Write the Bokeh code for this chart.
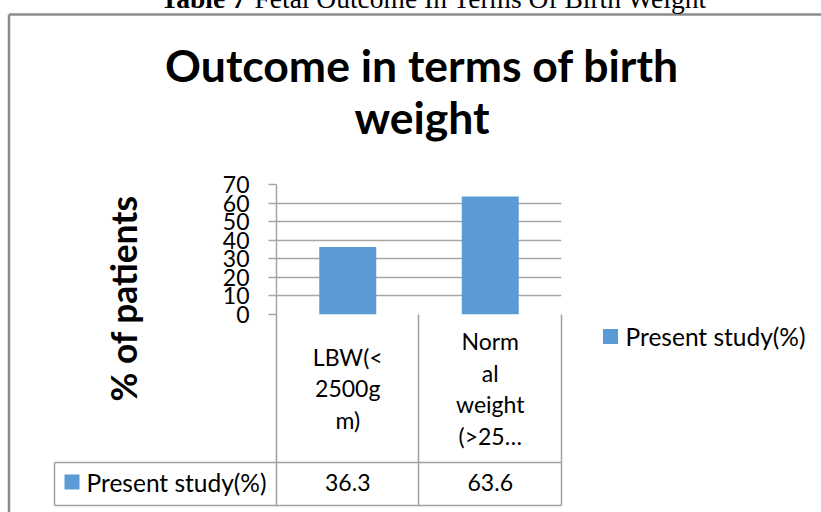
import math
from bokeh.plotting import figure
from bokeh.models import Range1d, FactorRange, FixedTicker, ColumnDataSource
from bokeh.embed import file_html
from bokeh.resources import INLINE
from bokeh.core.properties import value

# ---------------- data ----------------
categories = ["LBW(<2500gm)", "Normal weight (>2500gm)"]
category_lines = ["LBW(<\n2500g\nm)", "Norm\nal\nweight\n(>25\u2026"]
series_name = "Present study(%)"
values = [36.3, 63.6]
value_labels = ["36.3", "63.6"]
y_ticks = [0, 10, 20, 30, 40, 50, 60, 70]
title_lines = ["Outcome in terms of birth", "weight"]
y_title = "% of patients"
caption_bold = "Table 7"
caption_rest = "Fetal Outcome In Terms Of Birth Weight"

# ---------------- style ----------------
BAR = "#5B9BD5"
GRID = "#a6a6a6"
LINE = "#a0a0a0"
FRAME_BORDER = "#8c8c8c"
FONT = "Lato"
TXT = "23px"
LEG_TXT = "24.5px"

W, H = 821, 512
FL, FR, FT, FB = 276, 561, 184, 314      # plot area in page pixels
p = figure(width=W, height=H,
           x_range=FactorRange(*categories), y_range=Range1d(0, 70),
           output_backend="svg", toolbar_location=None,
           min_border_left=FL, min_border_right=W - FR,
           min_border_top=FT, min_border_bottom=H - FB)
p.outline_line_color = None
p.background_fill_color = "white"
p.border_fill_color = "white"

# page-pixel helpers for the decorations outside the plot area
p.extra_y_ranges = {"px": Range1d(FB, FT)}
CAT_W = (FR - FL) / len(categories)
def sx(px):
    """page x pixel -> synthetic categorical coordinate"""
    return (px - FL) / CAT_W

# bars
bars = p.vbar(x=categories, top=values, width=0.4, fill_color=BAR, line_color=None)

# axes / grid
p.xaxis.visible = False
p.xgrid.visible = False
p.ygrid.ticker = FixedTicker(ticks=y_ticks)
p.ygrid.grid_line_color = GRID
p.ygrid.grid_line_width = 1.5
yax = p.yaxis[0]
yax.ticker = FixedTicker(ticks=y_ticks)
yax.minor_tick_line_color = None
yax.major_tick_in = 0
yax.major_tick_out = 8
yax.major_tick_line_color = GRID
yax.major_tick_line_width = 1.5
yax.axis_line_color = GRID
yax.axis_line_width = 1.5
yax.major_label_standoff = 19
yax.major_label_text_font = FONT
yax.major_label_text_font_size = TXT
yax.major_label_text_color = "black"

# chart border (Excel chart area frame)
p.segment(x0=[sx(8.5), sx(8.5)], y0=[14, 14], x1=[sx(830), sx(8.5)], y1=[14, 530],
          y_range_name="px", level="overlay",
          line_color=FRAME_BORDER, line_width=2.5)

# data table lines
tx0, tx1, tx2, txl = FL, 418, FR, 54
ty0, ty1, ty2 = FB, 462, 505
p.segment(x0=[sx(v) for v in (tx0, tx1, tx2, txl, txl, txl)],
          y0=[ty0, ty0, ty0, ty1, ty1, ty2],
          x1=[sx(v) for v in (tx0, tx1, tx2, txl, tx2, tx2)],
          y1=[ty2, ty2, ty2, ty2, ty1, ty2],
          y_range_name="px", level="overlay",
          line_color=LINE, line_width=1.5)

def txt(x, y, text, size=TXT, align="left", bold=False,
        font=FONT, angle=0.0, line_height=1.2):
    src = ColumnDataSource(dict(x=x, y=y, text=text))
    p.text(x="x", y="y", text="text", source=src, y_range_name="px", level="overlay",
           text_align=align, text_baseline="middle", text_font=value(font),
           text_font_size=size, text_font_style="bold" if bold else "normal",
           text_line_height=line_height, angle=angle, text_color="black")

# category labels (table header cells)
txt(categories, [388, 388], category_lines, align="center", line_height=1.14)

# values row
txt(categories, [482, 482], value_labels, align="center")

# legend keys (data-table row key and the legend at right): 15px squares
key_x = [71.5, 610]
key_y = [481.5, 336]
p.segment(x0=[sx(v - 7.5) for v in key_x], x1=[sx(v + 7.5) for v in key_x],
          y0=key_y, y1=key_y, y_range_name="px", level="overlay",
          line_color=BAR, line_width=15, line_cap="butt")
txt([sx(86), sx(625)], [482, 336], [series_name, series_name], size=LEG_TXT)

# chart title
txt([sx(421.5), sx(421.5)], [63.5, 116], title_lines, size="44.5px", align="center",
    bold=True)
# y axis title
txt([sx(123)], [298], [y_title], size="35.3px", align="center", bold=True,
    angle=math.pi / 2)

# caption above the chart (cut off at the top, as in the source image)
txt([sx(160)], [-2.4], [caption_bold], size="27.5px", bold=True, font="Liberation Serif")
txt([sx(254)], [-2.4], [caption_rest], size="27.5px", font="Liberation Serif")

open("out.html", "w").write(file_html(p, INLINE))
